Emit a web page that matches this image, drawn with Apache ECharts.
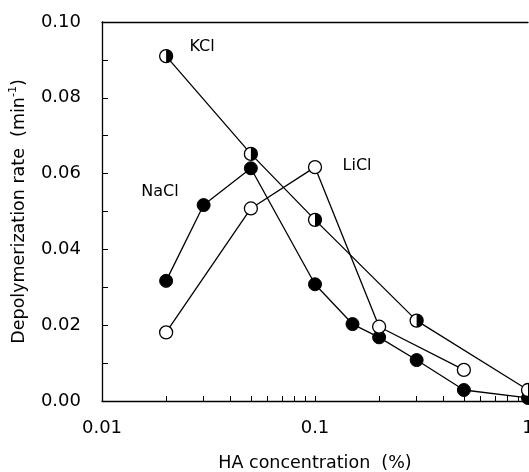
<!DOCTYPE html>
<html><head><meta charset="utf-8">
<script src="https://cdn.jsdelivr.net/npm/echarts@6/dist/echarts.min.js"></script>
<style>html,body{margin:0;padding:0;background:#fff}#c{width:529px;height:472px}</style>
</head><body><div id="c"></div>
<script>
// ---- data ----
const kclX  = [0.02, 0.05, 0.1, 0.3, 1.0];
const kclY  = [0.0910, 0.0652, 0.0478, 0.0212, 0.0029];
const liclX = [0.02, 0.05, 0.1, 0.2, 0.5];
const liclY = [0.0181, 0.0508, 0.0617, 0.0196, 0.0082];
const naclX = [0.02, 0.03, 0.05, 0.1, 0.15, 0.2, 0.3, 0.5, 1.0];
const naclY = [0.0317, 0.0517, 0.0614, 0.0308, 0.0203, 0.0168, 0.0108, 0.0029, 0.0008];
const xTickLabels = [0.01, 0.1, 1];
const xTicks = [0.01,0.02,0.03,0.04,0.05,0.06,0.07,0.08,0.09,0.1,0.2,0.3,0.4,0.5,0.6,0.7,0.8,0.9,1];
const yTickLabels = [0, 0.02, 0.04, 0.06, 0.08, 0.10];
const yTicks = [0,0.01,0.02,0.03,0.04,0.05,0.06,0.07,0.08,0.09,0.10];
const seriesNames = ['KCl', 'LiCl', 'NaCl'];
const labelAnchors = [[0.0295, 0.0934], [0.1575, 0.0620], [0.0187, 0.0551]];

const zip = (xs, ys) => xs.map((x, i) => [x, ys[i]]);
const FONT = 'DejaVu Sans';
const chart = echarts.init(document.getElementById('c'), null, {renderer: 'canvas'});

const lineBase = {
  type: 'line', clip: false, symbolSize: 13,
  lineStyle: {color: '#000', width: 1.3},
  emphasis: {disabled: true}, animation: false
};

chart.setOption({
  animation: false,
  backgroundColor: '#fff',
  grid: {left: 102, top: 22, right: 1, bottom: 71, containLabel: false, outerBoundsMode: 'none'},
  xAxis: [{
    type: 'log', logBase: 10, min: 0.01, max: 1,
    axisLine: {show: true, onZero: false, lineStyle: {color: '#000', width: 1.3}},
    axisTick: {show: true, inside: true, length: 5, customValues: xTicks, lineStyle: {color: '#000', width: 1}},
    axisLabel: {customValues: xTickLabels, formatter: v => String(+(+v).toPrecision(3)),
      margin: 18, color: '#000', fontSize: 18, fontFamily: FONT, hideOverlap: false},
    splitLine: {show: false},
    name: 'HA concentration  (%)', nameLocation: 'middle', nameGap: 53,
    nameTextStyle: {color: '#000', fontSize: 17.5, fontFamily: FONT}
  }, {
    type: 'value', position: 'top', min: 0, max: 1,
    axisLine: {show: true, onZero: false, lineStyle: {color: '#000', width: 1.3}},
    axisTick: {show: false}, axisLabel: {show: false}, splitLine: {show: false}
  }],
  yAxis: {
    type: 'value', min: 0, max: 0.1,
    axisLine: {show: true, onZero: false, lineStyle: {color: '#000', width: 1.3}},
    axisTick: {show: true, inside: true, length: 6, customValues: yTicks, lineStyle: {color: '#000', width: 1}},
    axisLabel: {customValues: yTickLabels, formatter: v => (+v).toFixed(2),
      margin: 21, color: '#000', fontSize: 18, fontFamily: FONT},
    splitLine: {show: false},
    name: 'Depolymerization rate  (min{sup|-1})', nameLocation: 'middle', nameGap: 68,
    nameTextStyle: {color: '#000', fontSize: 17.5, fontFamily: FONT, lineHeight: 22,
      rich: {sup: {fontSize: 11, fontFamily: FONT, color: '#000', verticalAlign: 'top', lineHeight: 22}}}
  },
  series: [
    Object.assign({}, lineBase, {name: seriesNames[2], data: zip(naclX, naclY), symbol: 'circle',
      itemStyle: {color: '#000', borderColor: '#000', borderWidth: 1}}),
    Object.assign({}, lineBase, {name: seriesNames[1], data: zip(liclX, liclY), symbol: 'circle',
      itemStyle: {color: '#fff', borderColor: '#000', borderWidth: 1.3}}),
    Object.assign({}, lineBase, {name: seriesNames[0], data: zip(kclX, kclY), symbol: 'circle',
      itemStyle: {color: '#fff', borderColor: '#000', borderWidth: 1.3}}),
    Object.assign({}, lineBase, {name: seriesNames[0] + '-half', data: zip(kclX, kclY),
      symbol: 'path://M0,0 A10,10 0 0,1 0,20 Z', symbolSize: [6.5, 13], symbolOffset: [3.25, 0],
      lineStyle: {width: 0, opacity: 0}, itemStyle: {color: '#000'}, silent: true, z: 5})
  ]
});

const graphics = seriesNames.map((name, i) => {
  const p = chart.convertToPixel({xAxisIndex: 0, yAxisIndex: 0}, labelAnchors[i]);
  return {type: 'text', x: p[0], y: p[1], z: 10,
    style: {text: name, fill: '#000', fontSize: 16, fontFamily: FONT, align: 'center', verticalAlign: 'middle'}};
});
chart.setOption({graphic: graphics});
</script>
</body></html>
